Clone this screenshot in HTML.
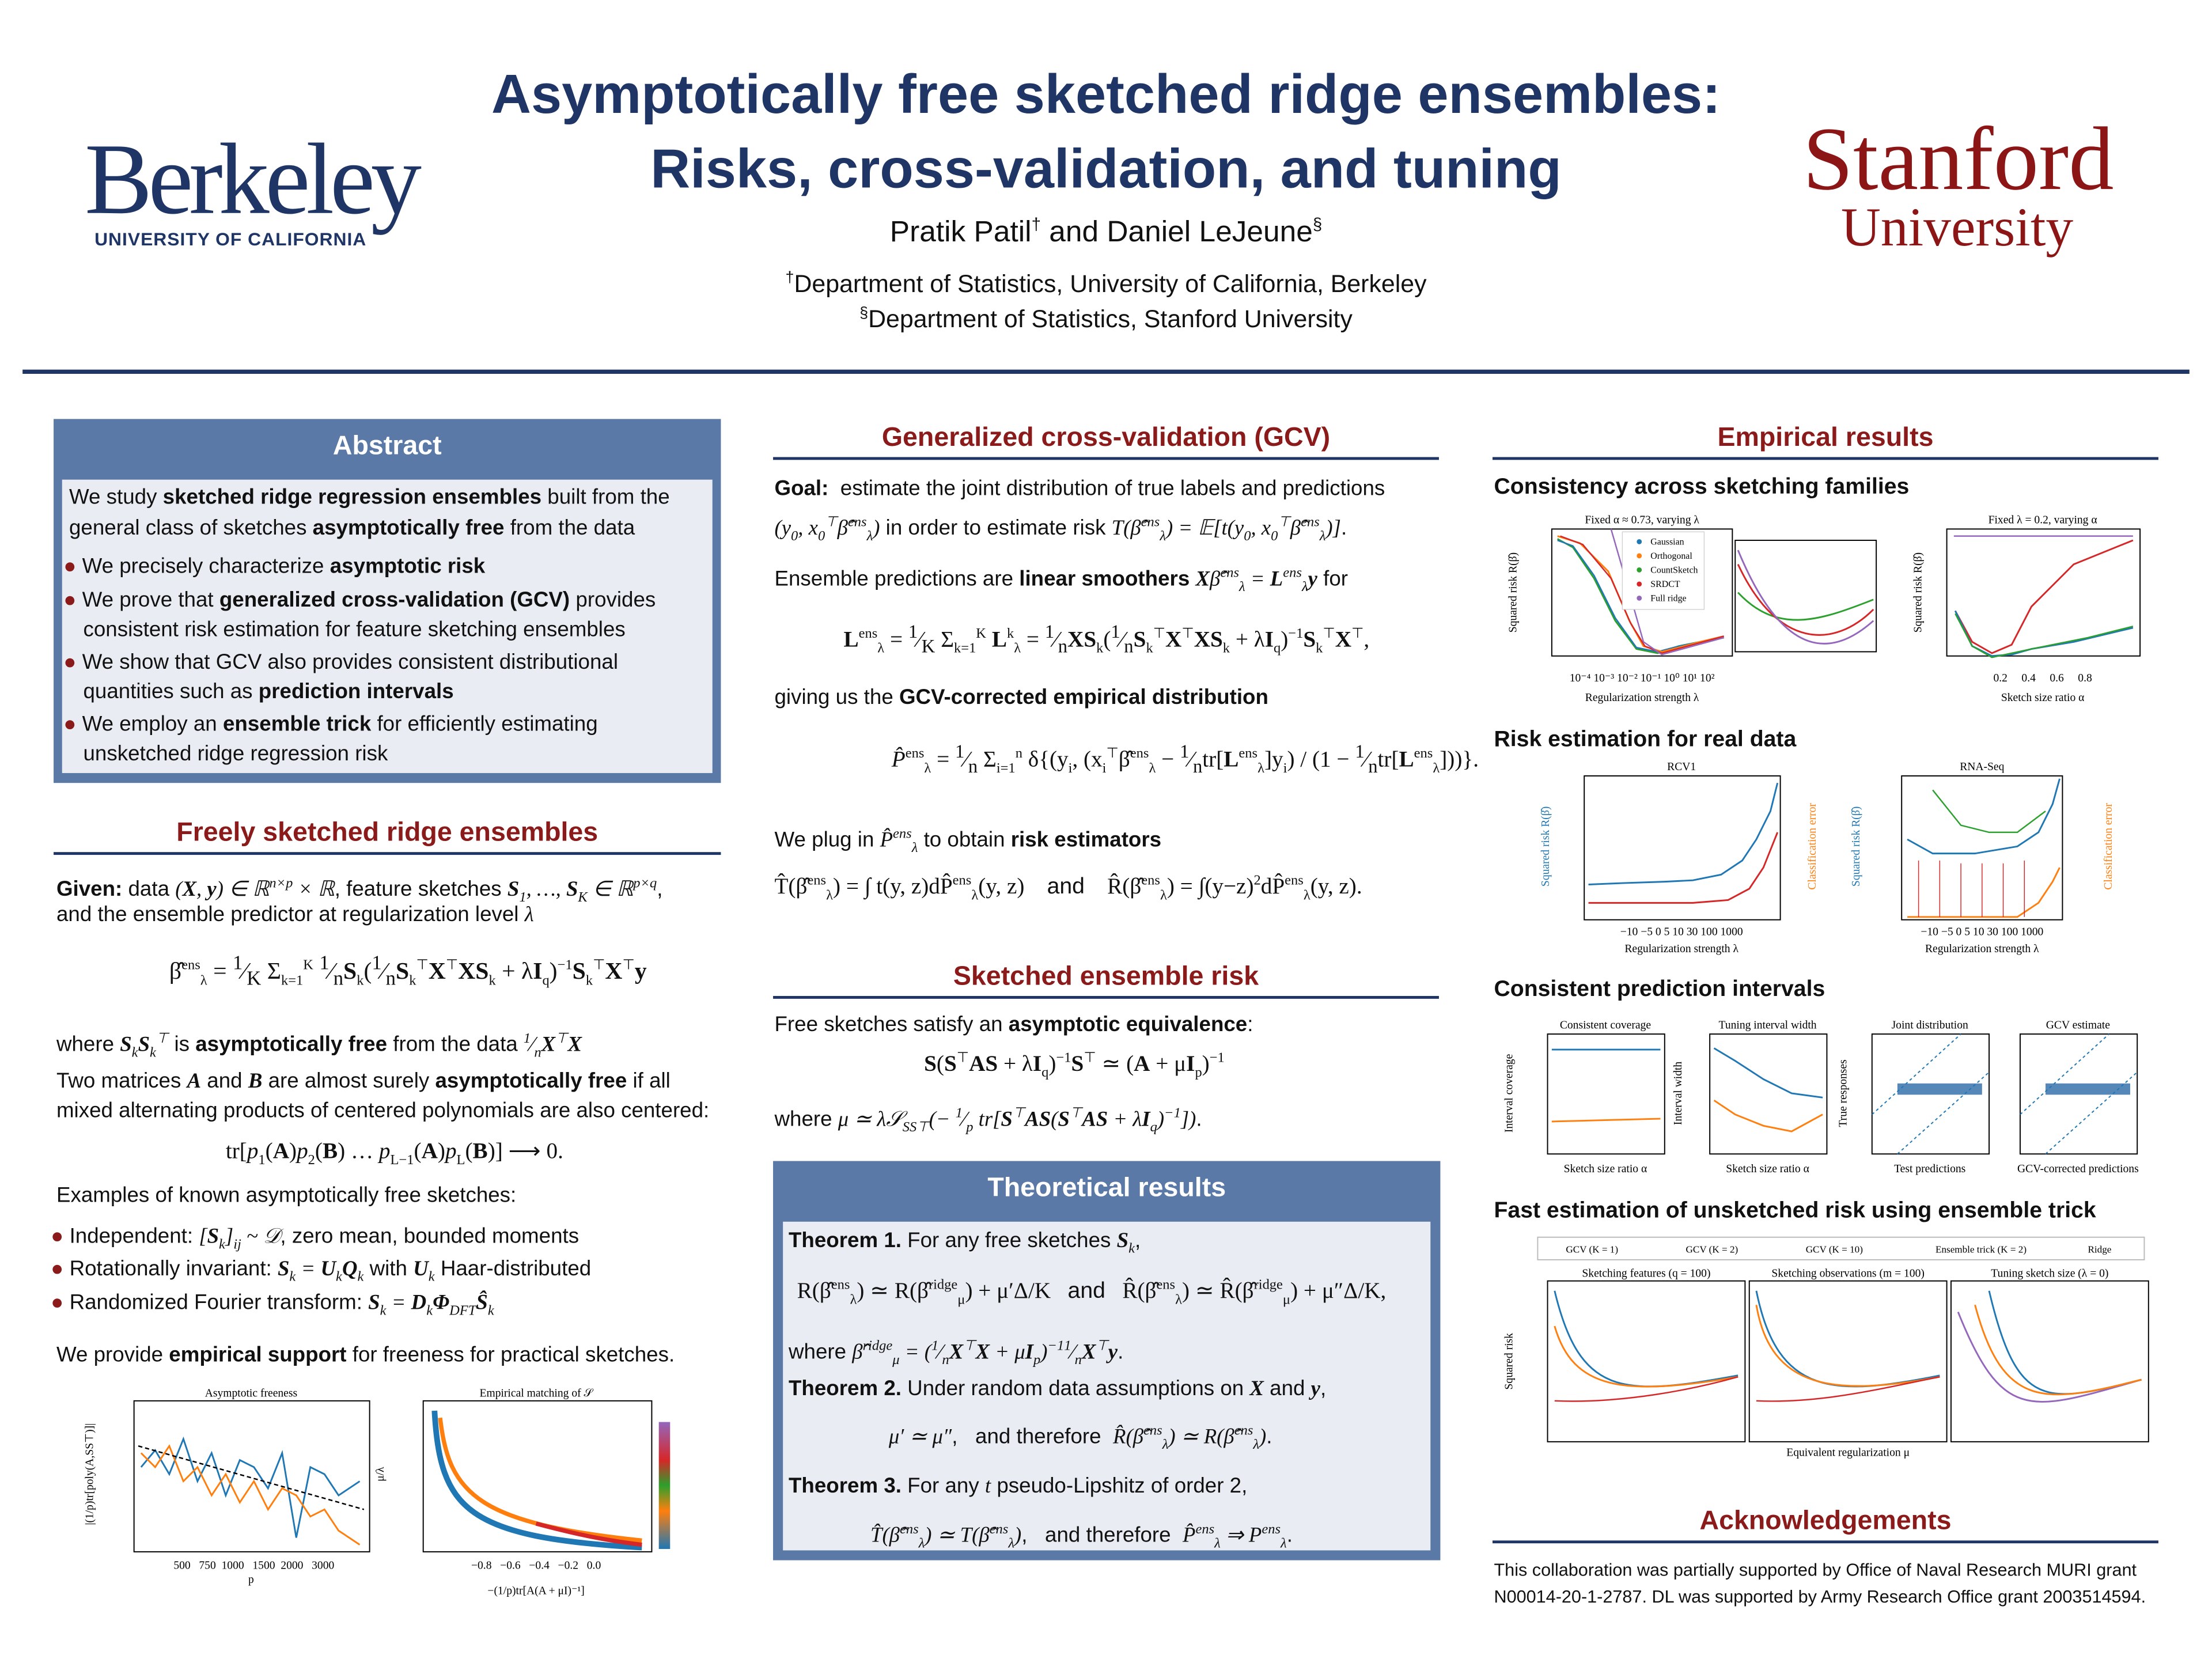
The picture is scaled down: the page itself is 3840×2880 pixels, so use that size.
<!DOCTYPE html>
<html><head><meta charset="utf-8">
<style>
html,body{margin:0;padding:0;background:#fff;}
body{width:3840px;height:2880px;overflow:hidden;position:relative;}
#p{position:absolute;left:0;top:0;width:1568px;height:1176px;transform:scale(2.44898);transform-origin:0 0;font-family:"Liberation Sans","DejaVu Sans",sans-serif;color:#111;}
.a{position:absolute;white-space:nowrap;}
.t{font-size:15px;line-height:22px;}
.h{position:absolute;color:#8b1a1a;font-weight:bold;font-size:19px;text-align:center;}
.rule{position:absolute;height:2px;background:#1f3566;}
.m{font-family:"Liberation Serif",serif;font-style:italic;}
.b{font-weight:bold;}
.dot{color:#8b1a1a;}
</style></head><body><div id="p">

<div class="a" style="left:0;width:1568px;top:46px;text-align:center;font-size:39px;font-weight:bold;color:#1f3566;">Asymptotically free sketched ridge ensembles:</div>
<div class="a" style="left:0;width:1568px;top:99px;text-align:center;font-size:39px;font-weight:bold;color:#1f3566;">Risks, cross-validation, and tuning</div>
<div class="a" style="left:0;width:1568px;top:152px;text-align:center;font-size:21px;">Pratik Patil<sup style="font-size:12px">†</sup> and Daniel LeJeune<sup style="font-size:12px">§</sup></div>
<div class="a" style="left:0;width:1568px;top:191px;text-align:center;font-size:17.5px;"><sup style="font-size:11px">†</sup>Department of Statistics, University of California, Berkeley</div>
<div class="a" style="left:0;width:1568px;top:216px;text-align:center;font-size:17.5px;"><sup style="font-size:11px">§</sup>Department of Statistics, Stanford University</div>

<div class="a" style="left:60px;top:86px;font-family:'Liberation Serif',serif;font-size:72px;color:#1f3566;letter-spacing:-3px;">Berkeley</div>
<div class="a" style="left:67px;top:162px;font-size:13px;font-weight:bold;color:#1f3566;letter-spacing:0.4px;">UNIVERSITY OF CALIFORNIA</div>
<div class="a" style="left:1278px;top:76px;font-family:'Liberation Serif',serif;font-size:64px;color:#8c1515;">Stanford</div>
<div class="a" style="left:1305px;top:139px;font-family:'Liberation Serif',serif;font-size:39px;color:#8c1515;">University</div>

<div class="rule" style="left:16px;width:1536px;top:262px;height:3px;"></div>

<div class="a" style="left:38px;top:297px;width:473px;height:258px;background:#5b79a7;"></div>
<div class="a" style="left:38px;top:306px;width:473px;text-align:center;color:#fff;font-size:19px;font-weight:bold;">Abstract</div>
<div class="a" style="left:44px;top:340px;width:461px;height:208px;background:#e9edf3;"></div>
<div class="a t" style="left:49px;top:342px;">We study <b>sketched ridge regression ensembles</b> built from the</div>
<div class="a t" style="left:49px;top:364px;">general class of sketches <b>asymptotically free</b> from the data</div>
<div class="a t" style="left:45px;top:391px;"><span class="dot">●</span> We precisely characterize <b>asymptotic risk</b></div>
<div class="a t" style="left:45px;top:415px;"><span class="dot">●</span> We prove that <b>generalized cross-validation (GCV)</b> provides</div>
<div class="a t" style="left:59px;top:436px;">consistent risk estimation for feature sketching ensembles</div>
<div class="a t" style="left:45px;top:459px;"><span class="dot">●</span> We show that GCV also provides consistent distributional</div>
<div class="a t" style="left:59px;top:480px;">quantities such as <b>prediction intervals</b></div>
<div class="a t" style="left:45px;top:503px;"><span class="dot">●</span> We employ an <b>ensemble trick</b> for efficiently estimating</div>
<div class="a t" style="left:59px;top:524px;">unsketched ridge regression risk</div>

<div class="h" style="left:38px;width:473px;top:580px;">Freely sketched ridge ensembles</div>
<div class="rule" style="left:38px;width:473px;top:604px;"></div>
<div class="a t" style="left:40px;top:616px;"><b>Given:</b> data <span class="m">(<b>X</b>, <b>y</b>) ∈ ℝ<sup style="font-size:10px">n×p</sup> × ℝ</span>, feature sketches <span class="m"><b>S</b><sub style="font-size:10px">1</sub>, …, <b>S</b><sub style="font-size:10px">K</sub> ∈ ℝ<sup style="font-size:10px">p×q</sup></span>,</div>
<div class="a t" style="left:40px;top:638px;">and the ensemble predictor at regularization level <span class="m">λ</span></div>
<div class="a m" style="left:120px;top:675px;font-size:17px;font-style:normal;">β̂<sup style="font-size:10px">ens</sup><sub style="font-size:10px">λ</sub> = <sup>1</sup>⁄<sub>K</sub> Σ<sub style="font-size:10px">k=1</sub><sup style="font-size:10px">K</sup> <sup>1</sup>⁄<sub>n</sub><b>S</b><sub style="font-size:10px">k</sub>(<sup>1</sup>⁄<sub>n</sub><b>S</b><sub style="font-size:10px">k</sub><sup style="font-size:10px">⊤</sup><b>X</b><sup style="font-size:10px">⊤</sup><b>XS</b><sub style="font-size:10px">k</sub> + λ<b>I</b><sub style="font-size:10px">q</sub>)<sup style="font-size:10px">−1</sup><b>S</b><sub style="font-size:10px">k</sub><sup style="font-size:10px">⊤</sup><b>X</b><sup style="font-size:10px">⊤</sup><b>y</b></div>
<div class="a t" style="left:40px;top:726px;">where <span class="m"><b>S</b><sub style="font-size:10px">k</sub><b>S</b><sub style="font-size:10px">k</sub><sup style="font-size:10px">⊤</sup></span> is <b>asymptotically free</b> from the data <span class="m"><sup style="font-size:10px">1</sup>⁄<sub style="font-size:10px">n</sub><b>X</b><sup style="font-size:10px">⊤</sup><b>X</b></span></div>
<div class="a t" style="left:40px;top:756px;">Two matrices <span class="m"><b>A</b></span> and <span class="m"><b>B</b></span> are almost surely <b>asymptotically free</b> if all</div>
<div class="a t" style="left:40px;top:777px;">mixed alternating products of centered polynomials are also centered:</div>
<div class="a m" style="left:160px;top:806px;font-size:16px;font-style:normal;">tr[<i>p</i><sub style="font-size:10px">1</sub>(<b>A</b>)<i>p</i><sub style="font-size:10px">2</sub>(<b>B</b>) … <i>p</i><sub style="font-size:10px">L−1</sub>(<b>A</b>)<i>p</i><sub style="font-size:10px">L</sub>(<b>B</b>)] ⟶ 0.</div>
<div class="a t" style="left:40px;top:837px;">Examples of known asymptotically free sketches:</div>
<div class="a t" style="left:36px;top:866px;"><span class="dot">●</span> Independent: <span class="m">[<b>S</b><sub style="font-size:10px">k</sub>]<sub style="font-size:10px">ij</sub> ~ 𝒟</span>, zero mean, bounded moments</div>
<div class="a t" style="left:36px;top:889px;"><span class="dot">●</span> Rotationally invariant: <span class="m"><b>S</b><sub style="font-size:10px">k</sub> = <b>U</b><sub style="font-size:10px">k</sub><b>Q</b><sub style="font-size:10px">k</sub></span> with <span class="m"><b>U</b><sub style="font-size:10px">k</sub></span> Haar-distributed</div>
<div class="a t" style="left:36px;top:913px;"><span class="dot">●</span> Randomized Fourier transform: <span class="m"><b>S</b><sub style="font-size:10px">k</sub> = <b>D</b><sub style="font-size:10px">k</sub><b>Φ</b><sub style="font-size:10px">DFT</sub><b>Ŝ</b><sub style="font-size:10px">k</sub></span></div>
<div class="a t" style="left:40px;top:950px;">We provide <b>empirical support</b> for freeness for practical sketches.</div>

<div class="h" style="left:548px;width:472px;top:300px;">Generalized cross-validation (GCV)</div>
<div class="rule" style="left:548px;width:472px;top:324px;"></div>
<div class="a t" style="left:549px;top:336px;"><b>Goal:</b>&nbsp; estimate the joint distribution of true labels and predictions</div>
<div class="a t" style="left:549px;top:360px;"><span class="m">(y<sub style="font-size:10px">0</sub>, x<sub style="font-size:10px">0</sub><sup style="font-size:10px">⊤</sup>β̂<sup style="font-size:10px">ens</sup><sub style="font-size:10px">λ</sub>)</span> in order to estimate risk <span class="m">T(β̂<sup style="font-size:10px">ens</sup><sub style="font-size:10px">λ</sub>) = 𝔼[t(y<sub style="font-size:10px">0</sub>, x<sub style="font-size:10px">0</sub><sup style="font-size:10px">⊤</sup>β̂<sup style="font-size:10px">ens</sup><sub style="font-size:10px">λ</sub>)]</span>.</div>
<div class="a t" style="left:549px;top:396px;">Ensemble predictions are <b>linear smoothers</b> <span class="m"><b>X</b>β̂<sup style="font-size:10px">ens</sup><sub style="font-size:10px">λ</sub> = <b>L</b><sup style="font-size:10px">ens</sup><sub style="font-size:10px">λ</sub><b>y</b></span> for</div>
<div class="a m" style="left:598px;top:440px;font-size:16px;font-style:normal;"><b>L</b><sup style="font-size:10px">ens</sup><sub style="font-size:10px">λ</sub> = <sup>1</sup>⁄<sub>K</sub> Σ<sub style="font-size:10px">k=1</sub><sup style="font-size:10px">K</sup> <b>L</b><sup style="font-size:10px">k</sup><sub style="font-size:10px">λ</sub> = <sup>1</sup>⁄<sub>n</sub><b>XS</b><sub style="font-size:10px">k</sub>(<sup>1</sup>⁄<sub>n</sub><b>S</b><sub style="font-size:10px">k</sub><sup style="font-size:10px">⊤</sup><b>X</b><sup style="font-size:10px">⊤</sup><b>XS</b><sub style="font-size:10px">k</sub> + λ<b>I</b><sub style="font-size:10px">q</sub>)<sup style="font-size:10px">−1</sup><b>S</b><sub style="font-size:10px">k</sub><sup style="font-size:10px">⊤</sup><b>X</b><sup style="font-size:10px">⊤</sup>,</div>
<div class="a t" style="left:549px;top:484px;">giving us the <b>GCV-corrected empirical distribution</b></div>
<div class="a m" style="left:632px;top:525px;font-size:16px;font-style:normal;"><i>P̂</i><sup style="font-size:10px">ens</sup><sub style="font-size:10px">λ</sub> = <sup>1</sup>⁄<sub>n</sub> Σ<sub style="font-size:10px">i=1</sub><sup style="font-size:10px">n</sup> δ{(y<sub style="font-size:10px">i</sub>, (x<sub style="font-size:10px">i</sub><sup style="font-size:10px">⊤</sup>β̂<sup style="font-size:10px">ens</sup><sub style="font-size:10px">λ</sub> − <sup>1</sup>⁄<sub>n</sub>tr[<b>L</b><sup style="font-size:10px">ens</sup><sub style="font-size:10px">λ</sub>]y<sub style="font-size:10px">i</sub>) / (1 − <sup>1</sup>⁄<sub>n</sub>tr[<b>L</b><sup style="font-size:10px">ens</sup><sub style="font-size:10px">λ</sub>]))}.</div>
<div class="a t" style="left:549px;top:581px;">We plug in <span class="m">P̂<sup style="font-size:10px">ens</sup><sub style="font-size:10px">λ</sub></span> to obtain <b>risk estimators</b></div>
<div class="a m" style="left:549px;top:619px;font-size:16px;font-style:normal;">T̂(β̂<sup style="font-size:10px">ens</sup><sub style="font-size:10px">λ</sub>) = ∫ t(y, z)dP̂<sup style="font-size:10px">ens</sup><sub style="font-size:10px">λ</sub>(y, z) &nbsp;&nbsp; <span style="font-family:'Liberation Sans'">and</span> &nbsp;&nbsp; R̂(β̂<sup style="font-size:10px">ens</sup><sub style="font-size:10px">λ</sub>) = ∫(y−z)<sup style="font-size:10px">2</sup>dP̂<sup style="font-size:10px">ens</sup><sub style="font-size:10px">λ</sub>(y, z).</div>

<div class="h" style="left:548px;width:472px;top:682px;">Sketched ensemble risk</div>
<div class="rule" style="left:548px;width:472px;top:706px;"></div>
<div class="a t" style="left:549px;top:716px;">Free sketches satisfy an <b>asymptotic equivalence</b>:</div>
<div class="a m" style="left:655px;top:744px;font-size:16px;font-style:normal;"><b>S</b>(<b>S</b><sup style="font-size:10px">⊤</sup><b>AS</b> + λ<b>I</b><sub style="font-size:10px">q</sub>)<sup style="font-size:10px">−1</sup><b>S</b><sup style="font-size:10px">⊤</sup> ≃ (<b>A</b> + μ<b>I</b><sub style="font-size:10px">p</sub>)<sup style="font-size:10px">−1</sup></div>
<div class="a t" style="left:549px;top:779px;">where <span class="m">μ ≃ λ𝒮<sub style="font-size:10px">SS⊤</sub>(− <sup style="font-size:10px">1</sup>⁄<sub style="font-size:10px">p</sub> tr[<b>S</b><sup style="font-size:10px">⊤</sup><b>AS</b>(<b>S</b><sup style="font-size:10px">⊤</sup><b>AS</b> + λ<b>I</b><sub style="font-size:10px">q</sub>)<sup style="font-size:10px">−1</sup>])</span>.</div>

<div class="a" style="left:548px;top:823px;width:473px;height:283px;background:#5b79a7;"></div>
<div class="a" style="left:548px;top:832px;width:473px;text-align:center;color:#fff;font-size:19px;font-weight:bold;">Theoretical results</div>
<div class="a" style="left:555px;top:866px;width:459px;height:233px;background:#e9edf3;"></div>
<div class="a t" style="left:559px;top:869px;"><b>Theorem 1.</b> For any free sketches <span class="m"><b>S</b><sub style="font-size:10px">k</sub></span>,</div>
<div class="a m" style="left:565px;top:905px;font-size:16px;font-style:normal;">R(β̂<sup style="font-size:10px">ens</sup><sub style="font-size:10px">λ</sub>) ≃ R(β̂<sup style="font-size:10px">ridge</sup><sub style="font-size:10px">μ</sub>) + μ′Δ/K &nbsp;&nbsp;<span style="font-family:'Liberation Sans'">and</span>&nbsp;&nbsp; R̂(β̂<sup style="font-size:10px">ens</sup><sub style="font-size:10px">λ</sub>) ≃ R̂(β̂<sup style="font-size:10px">ridge</sup><sub style="font-size:10px">μ</sub>) + μ″Δ/K,</div>
<div class="a t" style="left:559px;top:944px;">where <span class="m">β̂<sup style="font-size:10px">ridge</sup><sub style="font-size:10px">μ</sub> = (<sup style="font-size:10px">1</sup>⁄<sub style="font-size:10px">n</sub><b>X</b><sup style="font-size:10px">⊤</sup><b>X</b> + μ<b>I</b><sub style="font-size:10px">p</sub>)<sup style="font-size:10px">−1</sup><sup style="font-size:10px">1</sup>⁄<sub style="font-size:10px">n</sub><b>X</b><sup style="font-size:10px">⊤</sup><b>y</b></span>.</div>
<div class="a t" style="left:559px;top:974px;"><b>Theorem 2.</b> Under random data assumptions on <span class="m"><b>X</b></span> and <span class="m"><b>y</b></span>,</div>
<div class="a t" style="left:630px;top:1004px;"><span class="m">μ′ ≃ μ″</span>, &nbsp;&nbsp;and therefore &nbsp;<span class="m">R̂(β̂<sup style="font-size:10px">ens</sup><sub style="font-size:10px">λ</sub>) ≃ R(β̂<sup style="font-size:10px">ens</sup><sub style="font-size:10px">λ</sub>)</span>.</div>
<div class="a t" style="left:559px;top:1043px;"><b>Theorem 3.</b> For any <span class="m">t</span> pseudo-Lipshitz of order 2,</div>
<div class="a t" style="left:617px;top:1074px;"><span class="m">T̂(β̂<sup style="font-size:10px">ens</sup><sub style="font-size:10px">λ</sub>) ≃ T(β̂<sup style="font-size:10px">ens</sup><sub style="font-size:10px">λ</sub>)</span>, &nbsp;&nbsp;and therefore &nbsp;<span class="m">P̂<sup style="font-size:10px">ens</sup><sub style="font-size:10px">λ</sub> ⇒ P<sup style="font-size:10px">ens</sup><sub style="font-size:10px">λ</sub></span>.</div>

<div class="h" style="left:1058px;width:472px;top:300px;">Empirical results</div>
<div class="rule" style="left:1058px;width:472px;top:324px;"></div>
<div class="a b" style="left:1059px;top:337px;font-size:16px;">Consistency across sketching families</div>
<div class="a b" style="left:1059px;top:516px;font-size:16px;">Risk estimation for real data</div>
<div class="a b" style="left:1059px;top:693px;font-size:16px;">Consistent prediction intervals</div>
<div class="a b" style="left:1059px;top:850px;font-size:16px;">Fast estimation of unsketched risk using ensemble trick</div>
<div class="h" style="left:1058px;width:472px;top:1068px;">Acknowledgements</div>
<div class="rule" style="left:1058px;width:472px;top:1092px;"></div>
<div class="a" style="left:1059px;top:1104px;font-size:12.5px;line-height:19px;">This collaboration was partially supported by Office of Naval Research MURI grant<br>N00014-20-1-2787. DL was supported by Army Research Office grant 2003514594.</div>

<svg class="a" style="left:0;top:0" width="1568" height="1176" viewBox="0 0 1568 1176" font-family="Liberation Serif, serif" font-size="8">
<g fill="none" stroke="#000" stroke-width="0.8">
<rect x="95" y="993" width="167" height="107"/>
<rect x="300" y="993" width="162" height="107"/>
<rect x="1100" y="375" width="128" height="90"/>
<rect x="1230" y="383" width="100" height="79"/>
<rect x="1380" y="375" width="137" height="90"/>
<rect x="1123" y="550" width="139" height="102"/>
<rect x="1348" y="550" width="114" height="102"/>
<rect x="1097" y="733" width="83" height="85"/>
<rect x="1212" y="733" width="83" height="85"/>
<rect x="1327" y="733" width="83" height="85"/>
<rect x="1432" y="733" width="83" height="85"/>
<rect x="1090" y="877" width="430" height="16" stroke="#bbb"/>
<rect x="1097" y="908" width="140" height="114"/>
<rect x="1240" y="908" width="140" height="114"/>
<rect x="1383" y="908" width="140" height="114"/>
</g>
<rect x="467" y="1008" width="8" height="90" fill="url(#cb)"/>
<defs><linearGradient id="cb" x1="0" y1="1" x2="0" y2="0"><stop offset="0" stop-color="#1f77b4"/><stop offset="0.3" stop-color="#ff7f0e"/><stop offset="0.5" stop-color="#2ca02c"/><stop offset="0.7" stop-color="#d62728"/><stop offset="1" stop-color="#9467bd"/></linearGradient></defs>
<polyline fill="none" stroke="#1f77b4" stroke-width="1.2" points="100,1040 110,1028 120,1045 130,1020 140,1050 150,1030 160,1060 170,1035 180,1040 190,1055 200,1030 210,1090 220,1040 230,1045 240,1060 255,1050"/>
<polyline fill="none" stroke="#ff7f0e" stroke-width="1.2" points="100,1030 110,1040 120,1025 130,1050 140,1040 150,1060 160,1045 170,1065 180,1050 190,1070 200,1055 210,1060 220,1075 230,1070 240,1085 255,1095"/>
<line x1="98" y1="1025" x2="258" y2="1070" stroke="#000" stroke-dasharray="3,2"/>
<path d="M308,1000 C312,1070 330,1090 455,1097" fill="none" stroke="#1f77b4" stroke-width="4"/>
<path d="M312,1005 C318,1060 340,1080 455,1092" fill="none" stroke="#ff7f0e" stroke-width="3"/>
<path d="M380,1080 C410,1088 430,1092 455,1095" fill="none" stroke="#d62728" stroke-width="3"/>
<polyline fill="none" stroke="#2ca02c" stroke-width="1.2" points="1104,382 1115,388 1130,410 1145,440 1160,460 1175,463 1190,458 1205,455 1222,452"/>
<polyline fill="none" stroke="#1f77b4" stroke-width="1" points="1104,383 1115,387 1130,408 1145,438 1160,459 1175,462 1190,458 1205,455 1222,452"/>
<polyline fill="none" stroke="#ff7f0e" stroke-width="1.2" points="1104,380 1120,385 1140,405 1155,440 1165,458 1178,462 1190,459 1205,455 1222,451"/>
<polyline fill="none" stroke="#d62728" stroke-width="1" points="1106,380 1122,386 1142,410 1156,442 1166,458 1178,463 1222,451"/>
<polyline fill="none" stroke="#9467bd" stroke-width="1" points="1142,375 1155,420 1165,455 1178,464 1222,452"/>
<rect x="1150" y="377" width="58" height="55" fill="#fff" stroke="#ccc" stroke-width="0.5"/>
<g font-size="6.5"><text x="1170" y="386">Gaussian</text><text x="1170" y="396">Orthogonal</text><text x="1170" y="406">CountSketch</text><text x="1170" y="416">SRDCT</text><text x="1170" y="426">Full ridge</text></g>
<circle cx="1162" cy="384" r="1.8" fill="#1f77b4"/><circle cx="1162" cy="394" r="1.8" fill="#ff7f0e"/><circle cx="1162" cy="404" r="1.8" fill="#2ca02c"/><circle cx="1162" cy="414" r="1.8" fill="#d62728"/><circle cx="1162" cy="424" r="1.8" fill="#9467bd"/>
<path d="M1232,420 C1260,450 1290,440 1328,425" fill="none" stroke="#2ca02c" stroke-width="1.2"/>
<path d="M1232,400 C1260,460 1300,460 1328,432" fill="none" stroke="#d62728" stroke-width="1.2"/>
<path d="M1232,390 C1265,470 1300,465 1328,440" fill="none" stroke="#9467bd" stroke-width="1.2"/>
<line x1="1385" y1="380" x2="1512" y2="380" stroke="#9467bd"/>
<polyline fill="none" stroke="#d62728" stroke-width="1.2" points="1386,433 1398,455 1412,463 1426,457 1440,430 1470,400 1512,383"/>
<polyline fill="none" stroke="#1f77b4" stroke-width="1.2" points="1386,433 1398,458 1412,465 1426,464 1440,460 1470,455 1512,445"/>
<polyline fill="none" stroke="#2ca02c" stroke-width="1" points="1386,435 1398,458 1412,466 1440,460 1480,452 1512,444"/>
<polyline fill="none" stroke="#1f77b4" stroke-width="1.2" points="1126,627 1150,626 1180,625 1200,624 1220,620 1235,610 1245,595 1255,575 1260,555"/>
<polyline fill="none" stroke="#d62728" stroke-width="1.2" points="1126,640 1200,640 1225,638 1240,630 1250,615 1260,590"/>
<polyline fill="none" stroke="#1f77b4" stroke-width="1.2" points="1352,595 1370,605 1400,605 1430,600 1445,590 1455,570 1460,552"/>
<polyline fill="none" stroke="#2ca02c" stroke-width="1" points="1370,560 1390,585 1410,590 1430,590 1450,575"/>
<polyline fill="none" stroke="#ff7f0e" stroke-width="1.2" points="1352,650 1430,650 1445,640 1455,625 1460,615"/>
<g stroke="#d62728" stroke-width="0.6"><line x1="1360" y1="610" x2="1360" y2="650"/><line x1="1375" y1="610" x2="1375" y2="650"/><line x1="1390" y1="612" x2="1390" y2="650"/><line x1="1405" y1="612" x2="1405" y2="650"/><line x1="1420" y1="612" x2="1420" y2="650"/><line x1="1435" y1="610" x2="1435" y2="650"/></g>
<line x1="1100" y1="744" x2="1177" y2="744" stroke="#1f77b4" stroke-width="1.2"/>
<line x1="1100" y1="795" x2="1177" y2="793" stroke="#ff7f0e" stroke-width="1.2"/>
<polyline fill="none" stroke="#1f77b4" stroke-width="1.2" points="1215,743 1230,752 1250,765 1270,775 1292,778"/>
<polyline fill="none" stroke="#ff7f0e" stroke-width="1.2" points="1215,780 1230,790 1250,798 1270,802 1292,790"/>
<rect x="1345" y="768" width="60" height="8" fill="#2b6aa8" opacity="0.8"/>
<rect x="1450" y="768" width="60" height="8" fill="#2b6aa8" opacity="0.8"/>
<g stroke="#1f77b4" stroke-dasharray="2,2" stroke-width="0.8"><line x1="1327" y1="790" x2="1390" y2="733"/><line x1="1345" y1="818" x2="1410" y2="760"/><line x1="1432" y1="790" x2="1495" y2="733"/><line x1="1450" y1="818" x2="1515" y2="760"/></g>
<g font-size="7"><text x="1110" y="888">GCV (K = 1)</text><text x="1195" y="888">GCV (K = 2)</text><text x="1280" y="888">GCV (K = 10)</text><text x="1372" y="888">Ensemble trick (K = 2)</text><text x="1480" y="888">Ridge</text></g>
<path d="M1102,915 C1120,990 1150,990 1232,975" fill="none" stroke="#1f77b4" stroke-width="1.2"/>
<path d="M1102,940 C1115,985 1150,990 1232,976" fill="none" stroke="#ff7f0e" stroke-width="1.2"/>
<path d="M1102,993 C1150,995 1200,985 1232,976" fill="none" stroke="#d62728" stroke-width="1"/>
<path d="M1245,915 C1260,990 1300,990 1375,975" fill="none" stroke="#1f77b4" stroke-width="1.2"/>
<path d="M1245,925 C1255,985 1300,990 1375,976" fill="none" stroke="#ff7f0e" stroke-width="1.2"/>
<path d="M1245,993 C1290,995 1330,985 1375,976" fill="none" stroke="#d62728" stroke-width="1"/>
<path d="M1388,930 C1420,1010 1440,1000 1518,978" fill="none" stroke="#9467bd" stroke-width="1.2"/>
<path d="M1410,915 C1430,1000 1450,995 1518,978" fill="none" stroke="#1f77b4" stroke-width="1.2"/>
<path d="M1400,925 C1420,1000 1450,995 1518,978" fill="none" stroke="#ff7f0e" stroke-width="1.2"/>
<g font-size="8" text-anchor="middle">
<text x="178" y="990">Asymptotic freeness</text><text x="380" y="990">Empirical matching of 𝒮</text>
<text x="178" y="1122">p</text><text x="380" y="1130">−(1/p)tr[A(A + μI)⁻¹]</text>
<text x="1164" y="371">Fixed α ≈ 0.73, varying λ</text><text x="1448" y="371">Fixed λ = 0.2, varying α</text>
<text x="1164" y="483">10⁻⁴ 10⁻³ 10⁻² 10⁻¹ 10⁰ 10¹ 10²</text>
<text x="1164" y="497">Regularization strength λ</text><text x="1448" y="497">Sketch size ratio α</text>
<text x="1448" y="483">0.2 &#160;&#160;&#160; 0.4 &#160;&#160;&#160; 0.6 &#160;&#160;&#160; 0.8</text>
<text x="1192" y="546">RCV1</text><text x="1405" y="546">RNA-Seq</text>
<text x="1192" y="663">−10 −5 0 5 10 30 100 1000</text><text x="1405" y="663">−10 −5 0 5 10 30 100 1000</text>
<text x="1192" y="675">Regularization strength λ</text><text x="1405" y="675">Regularization strength λ</text>
<text x="1138" y="729">Consistent coverage</text><text x="1253" y="729">Tuning interval width</text><text x="1368" y="729">Joint distribution</text><text x="1473" y="729">GCV estimate</text>
<text x="1138" y="831">Sketch size ratio α</text><text x="1253" y="831">Sketch size ratio α</text><text x="1368" y="831">Test predictions</text><text x="1473" y="831">GCV-corrected predictions</text>
<text x="1167" y="905">Sketching features (q = 100)</text><text x="1310" y="905">Sketching observations (m = 100)</text><text x="1453" y="905">Tuning sketch size (λ = 0)</text>
<text x="1310" y="1032">Equivalent regularization μ</text>
<text x="180" y="1112">500 &#160; 750 &#160;1000 &#160; 1500 &#160;2000 &#160; 3000</text>
<text x="380" y="1112">−0.8 &#160; −0.6 &#160; −0.4 &#160; −0.2 &#160; 0.0</text>
<text transform="translate(1075,420) rotate(-90)">Squared risk R(β̂)</text>
<text transform="translate(1362,420) rotate(-90)">Squared risk R(β̂)</text>
<text transform="translate(1098,600) rotate(-90)" fill="#1f77b4">Squared risk R(β̂)</text>
<text transform="translate(1287,600) rotate(-90)" fill="#ff7f0e">Classification error</text>
<text transform="translate(1318,600) rotate(-90)" fill="#1f77b4">Squared risk R(β̂)</text>
<text transform="translate(1497,600) rotate(-90)" fill="#ff7f0e">Classification error</text>
<text transform="translate(1072,775) rotate(-90)">Interval coverage</text>
<text transform="translate(1192,775) rotate(-90)">Interval width</text>
<text transform="translate(1309,775) rotate(-90)">True responses</text>
<text transform="translate(1072,965) rotate(-90)">Squared risk</text>
<text transform="translate(66,1045) rotate(-90)">|(1/p)tr[poly(A,SS⊤)]|</text>
<text transform="translate(272,1045) rotate(-90)">μ/λ</text>
</g>
</svg>
</div></body></html>
